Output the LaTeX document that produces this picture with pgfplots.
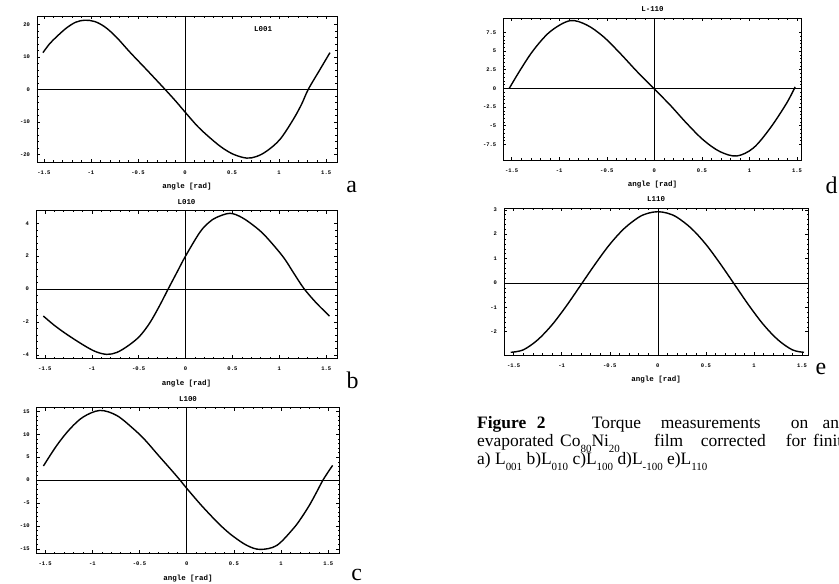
\documentclass[border=0pt]{standalone}
\usepackage{fontspec}
\setmainfont{Liberation Serif}
\setmonofont{Liberation Mono}
\usepackage{pgfplots}
\pgfplotsset{compat=1.18}

\newcommand\tickfont{\ttfamily\bfseries\fontsize{5.5}{6}\selectfont}
\newcommand\lblfont{\ttfamily\bfseries\fontsize{7.5}{9}\selectfont}
\newcommand\capfont{\fontsize{17.5}{18}\selectfont}
\newcommand\sub[1]{\raisebox{-0.32em}{\fontsize{11}{11}\selectfont #1}}

\pgfplotsset{
  curve/.style={black, line width=1.4bp, smooth, tension=0.55, mark=none},
  mma/.style={
    scale only axis,
    axis line style={black, line width=0.6bp},
    tick style={black, line width=0.4bp},
    tick align=inside,
    major tick length=3bp,
    minor tick length=1.6bp,
    minor tick num=4,
    xtick={-1.5,-1,-0.5,0,0.5,1,1.5},
    /pgf/number format/assume math mode=true,
    ticklabel style={font=\tickfont},
    xticklabel style={anchor=center, yshift=-10.5bp},
    yticklabel style={anchor=east, xshift=-3.5bp},
    xlabel={angle [rad]},
    xlabel style={font=\lblfont, at={(axis description cs:0.5,0)}, anchor=center, yshift=-25bp},
    title style={font=\lblfont, at={(axis description cs:0.5,1)}, anchor=center, yshift=3bp, inner sep=0pt},
    extra x ticks={0}, extra x tick labels={},
    extra y ticks={0}, extra y tick labels={},
    extra tick style={grid=major, major grid style={black, line width=0.6bp}},
  }
}

\begin{document}
\begin{tikzpicture}
\useasboundingbox (0bp,0bp) rectangle (839bp,584bp);

% a) L001
\begin{axis}[mma, at={(37bp,422bp)}, anchor=south west, width=300bp, height=146bp,
  xmin=-1.573, xmax=1.615, ymin=-22.4, ymax=22.6, ytick={-20,-10,0,10,20}]
\addplot[curve] coordinates {
(-1.51,11.3) (-1.44,14.0) (-1.365,16.2) (-1.26,18.9) (-1.16,20.7) (-1.064,21.3)
(-0.96,20.9) (-0.85,19.2) (-0.73,16.1) (-0.584,11.4) (-0.40,5.8) (-0.213,0.0)
(-0.10,-3.6) (0,-7.0) (0.14,-11.6) (0.283,-15.4) (0.40,-18.1) (0.52,-20.1)
(0.656,-21.2) (0.76,-20.7) (0.87,-19.0) (1.01,-15.4) (1.152,-9.2) (1.24,-4.5)
(1.31,0.0) (1.436,6.2) (1.54,11.3)
};
\node[font=\lblfont] at (axis cs:0.83,18.6) {L001};
\end{axis}

% b) L010
\begin{axis}[mma, at={(36bp,225.7bp)}, anchor=south west, width=301bp, height=147.6bp,
  xmin=-1.594, xmax=1.615, ymin=-4.21, ymax=4.76, ytick={-4,-2,0,2,4}, title={L010}]
\addplot[curve] coordinates {
(-1.516,-1.64) (-1.40,-2.2) (-1.267,-2.75) (-1.09,-3.4) (-0.96,-3.8) (-0.84,-3.97)
(-0.73,-3.85) (-0.60,-3.4) (-0.486,-2.85) (-0.38,-2.05) (-0.28,-1.05) (-0.185,0.0)
(-0.09,1.03) (0,2.0) (0.153,3.45) (0.25,4.05) (0.33,4.35) (0.472,4.6) (0.60,4.35)
(0.75,3.75) (0.863,3.15) (1.04,1.96) (1.15,1.0) (1.26,0.05) (1.395,-0.85) (1.535,-1.64)
};
\end{axis}

% c) L100
\begin{axis}[mma, at={(36.7bp,30.7bp)}, anchor=south west, width=302.6bp, height=145.6bp,
  xmin=-1.589, xmax=1.617, ymin=-16.0, ymax=15.8, ytick={-15,-10,-5,0,5,10,15}, title={L100}]
\addplot[curve] coordinates {
(-1.518,3.06) (-1.376,7.57) (-1.235,11.2) (-1.094,13.8) (-0.918,15.2) (-0.741,14.1)
(-0.565,11.2) (-0.441,8.74) (-0.30,5.4) (-0.15,1.9) (-0.071,0.0) (0,-1.8)
(0.15,-5.4) (0.30,-8.7) (0.40,-10.7) (0.50,-12.4) (0.64,-14.3) (0.777,-15.15)
(0.953,-14.3) (1.13,-10.6) (1.22,-8.1) (1.306,-5.3) (1.38,-2.5) (1.45,0.2) (1.546,3.2)
};
\end{axis}

% d) L-110
\begin{axis}[mma, at={(503.3bp,424bp)}, anchor=south west, width=298.4bp, height=141.7bp,
  xmin=-1.588, xmax=1.549, ymin=-9.6, ymax=9.38, ytick={-7.5,-5,-2.5,0,2.5,5,7.5}, title={L-110}]
\addplot[curve] coordinates {
(-1.525,0.0) (-1.41,2.45) (-1.27,5.13) (-1.095,7.6) (-0.887,9.06) (-0.71,8.48)
(-0.536,6.92) (-0.36,4.69) (-0.186,2.3) (0,-0.1) (0.165,-2.23) (0.34,-4.69)
(0.515,-6.92) (0.69,-8.48) (0.866,-9.06) (1.04,-8.0) (1.216,-5.36) (1.39,-2.0)
(1.48,0.2)
};
\end{axis}

% e) L110
\begin{axis}[mma, at={(504bp,229bp)}, anchor=south west, width=304.3bp, height=146.7bp,
  xmin=-1.6, xmax=1.565, ymin=-2.96, ymax=3.06, ytick={-2,-1,0,1,2,3}, title={L110}]
\addplot[curve] coordinates {
(-1.53,-2.85) (-1.4,-2.75) (-1.25,-2.34) (-1.1,-1.72) (-0.95,-0.94) (-0.8,-0.08)
(-0.65,0.78) (-0.5,1.58) (-0.35,2.23) (-0.2,2.69) (-0.1,2.86) (0,2.92)
(0.1,2.86) (0.2,2.69) (0.35,2.23) (0.5,1.58) (0.65,0.78) (0.8,-0.08)
(0.95,-0.94) (1.1,-1.72) (1.25,-2.34) (1.4,-2.75) (1.52,-2.85)
};
\end{axis}

% panel letters
\begin{scope}[every node/.style={font=\fontsize{24}{24}\selectfont, anchor=base, inner sep=0pt}]
\node at (351.7bp,391.3bp) {a};
\node at (352.5bp,195.7bp) {b};
\node at (356.7bp,4bp) {c};
\node at (831.7bp,390.7bp) {d};
\node at (820.8bp,209bp) {e};
\end{scope}

% caption
\begin{scope}[every node/.style={font=\capfont, anchor=base west, inner sep=0pt}]
\node at (477bp,155bp) {\textbf{Figure}};
\node at (536.7bp,155bp) {\textbf{2}};
\node at (591.7bp,155bp) {Torque};
\node at (660.7bp,155bp) {measurements};
\node at (790.7bp,155bp) {on};
\node at (822.3bp,155bp) {an};
\node at (477bp,137.5bp) {evaporated};
\node at (560bp,137.5bp) {Co\sub{80}Ni\sub{20}};
\node at (654bp,137.5bp) {film};
\node at (700.7bp,137.5bp) {corrected};
\node at (785.7bp,137.5bp) {for};
\node at (813bp,137.5bp) {finite};
\node at (477bp,119.5bp) {a) L\sub{001} b)L\sub{010} c)L\sub{100} d)L\sub{-100} e)L\sub{110}};
\end{scope}
\end{tikzpicture}
\end{document}
